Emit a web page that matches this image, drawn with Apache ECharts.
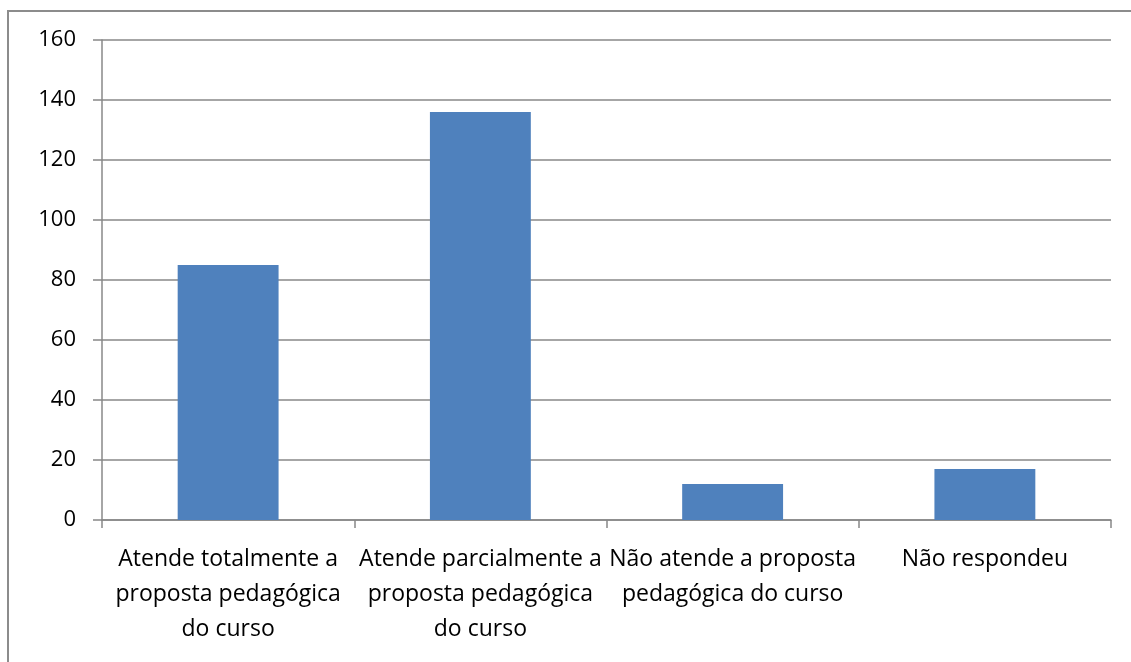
<!DOCTYPE html>
<html><head><meta charset="utf-8">
<script src="https://cdn.jsdelivr.net/npm/echarts@6/dist/echarts.min.js"></script>
<style>
html,body{margin:0;padding:0;background:#fff;}
#frame{position:absolute;left:7px;top:10px;width:1200px;height:700px;border-left:2px solid #8c8c8c;border-top:2px solid #8c8c8c;box-sizing:border-box;}
#c{position:absolute;left:0;top:0;width:1131px;height:662px;}
</style></head>
<body>
<div id="frame"></div>
<div id="c"></div>
<script>
const categories = [
  "Atende totalmente a\nproposta pedagógica\ndo curso",
  "Atende parcialmente a\nproposta pedagógica\ndo curso",
  "Não atende a proposta\npedagógica do curso",
  "Não respondeu"
];
const values = [85, 136, 12, 17];
const yMin = 0, yMax = 160, yStep = 20;

const chart = echarts.init(document.getElementById('c'));
const font = "'Open Sans', 'Noto Sans', sans-serif";
chart.setOption({
  animation: false,
  grid: {left: 102, right: 20, top: 40, bottom: 142},
  xAxis: {
    type: 'category',
    data: categories,
    axisLine: {lineStyle: {color: '#888', width: 1.5}},
    axisTick: {show: true, length: 8, inside: false, lineStyle: {color: '#888', width: 1.5}},
    axisLabel: {interval: 0, color: '#000', fontSize: 23, fontFamily: font, lineHeight: 35, margin: 22}
  },
  yAxis: {
    type: 'value',
    min: yMin, max: yMax, interval: yStep,
    axisLine: {show: true, lineStyle: {color: '#888', width: 1.5}},
    axisTick: {show: true, length: 9, lineStyle: {color: '#888', width: 1.5}},
    splitLine: {show: true, lineStyle: {color: '#888', width: 1.5}},
    axisLabel: {color: '#000', fontSize: 22, fontFamily: font, margin: 26}
  },
  series: [{
    type: 'bar',
    data: values,
    barWidth: '40%',
    itemStyle: {color: '#4F81BD'}
  }]
});
</script>
</body></html>
